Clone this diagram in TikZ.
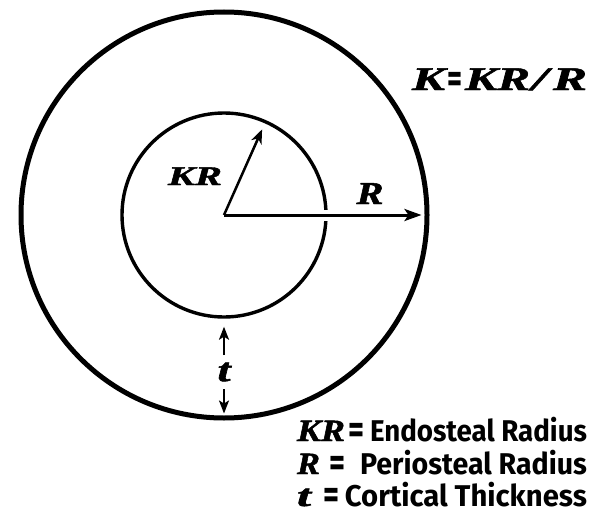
\documentclass[tikz,border=0pt]{standalone}
\usepackage{fontspec}
\newfontfamily\legsans{Fira Sans}
\newfontfamily\hser{Liberation Serif}[UprightFont={* Bold Italic},UprightFeatures={FakeBold=1.5}]
\usetikzlibrary{arrows.meta}
\newcommand\dser[3]{{\fontsize{#1}{#1}\selectfont\resizebox{#2}{\height}{\hser #3}}}
\newcommand\lsans[2]{{\fontsize{30}{30}\selectfont\resizebox{#1}{\height}{\legsans\bfseries #2}}}
\newcommand\lser[2]{{\fontsize{31}{31}\selectfont\resizebox{#1}{\height}{\hser #2}}}
\newcommand\eqs[1]{\resizebox{#1}{\height}{\scalebox{1}[1.35]{\fontsize{30}{30}\selectfont\legsans\bfseries =}}}
\begin{document}
\begin{tikzpicture}[x=1pt,y=-1pt,
  ring/.style={circle,draw,inner sep=0pt},
  arr/.style={line width=3pt,-{Stealth[length=17pt,width=12pt,inset=4pt]}},
  arrk/.style={line width=2.5pt,-{Stealth[length=14pt,width=11pt,inset=4pt]}},
  tarr/.style={line width=2pt,-{Stealth[length=13pt,width=10pt,inset=3pt]}},
  txt/.style={inner sep=0pt,outer sep=0pt},
  ]
\useasboundingbox (0,0) rectangle (599,511);
\coordinate (c) at (224,215);
\node[ring,line width=5pt,minimum size=406pt] (outer) at (c) {};
\node[ring,line width=3.4pt,minimum size=204pt] (inner) at (c) {};
% gap in inner circle where the arrow crosses
\draw[white,line width=11pt] ([xshift=-9pt]inner.east) -- ([xshift=6pt]inner.east);
\draw[arr,shorten >=8pt] (c) -- (outer.east);
\draw[arrk,shorten >=10pt] (c) -- (inner.66);
% labels in the rings
\node[txt,anchor=base] (kr) at (195,185) {\dser{27}{54pt}{KR}};
\node[txt,anchor=base] (r) at (370,204) {\dser{32}{27pt}{R}};
\node[txt,minimum height=34pt] (tlab) at (224,372) {\dser{33}{13pt}{t}};
\draw[tarr,shorten >=8pt] (tlab.north) -- (inner.south);
\draw[tarr,shorten >=7pt] (tlab.south) -- (outer.south);
% formula K = KR / R
\node[txt,anchor=base west] (fk) at (412,90) {\dser{33}{33pt}{K}};
\node[txt,anchor=base] (feq) at (455,92.5) {\eqs{15pt}};
\node[txt,anchor=base west] (fkr) at (465,90) {\dser{33}{65pt}{KR}};
\node[txt,anchor=base west] (fsl) at (532,90) {\dser{33}{16pt}{/}};
\node[txt,anchor=base west] (fr) at (553,90) {\dser{33}{34pt}{R}};
% legend
\node[txt,anchor=base west] (l1a) at (297,441) {\lser{48pt}{KR}};
\node[txt,anchor=base] (l1e) at (356,443.5) {\eqs{16pt}};
\node[txt,anchor=base east] (l1b) at (587,441) {\lsans{217pt}{Endosteal Radius}};
\node[txt,anchor=base west] (l2a) at (297,474) {\lser{23pt}{R}};
\node[txt,anchor=base] (l2e) at (337,476.5) {\eqs{16pt}};
\node[txt,anchor=base east] (l2b) at (587,474) {\lsans{227pt}{Periosteal Radius}};
\node[txt,anchor=base west] (l3a) at (297,506) {\lser{14pt}{t}};
\node[txt,anchor=base] (l3e) at (331,508.5) {\eqs{16pt}};
\node[txt,anchor=base east] (l3b) at (587,506) {\lsans{242pt}{Cortical Thickness}};
\end{tikzpicture}
\end{document}
